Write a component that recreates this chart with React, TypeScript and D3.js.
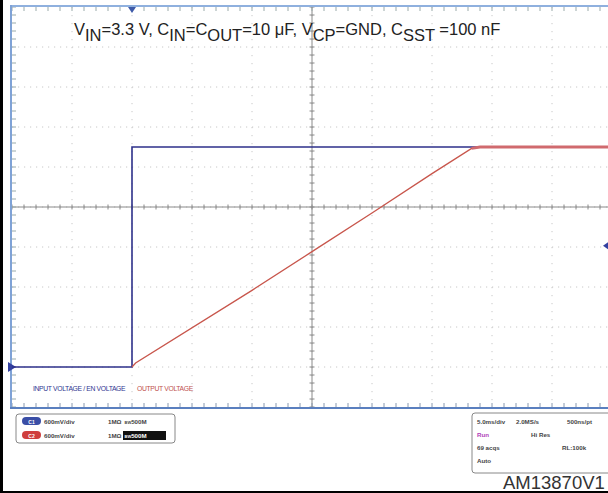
import React from "react";
import * as d3 from "d3";

// Channel 1 (input / EN voltage) – time in ms, volts
const ch1Time = [0, 10, 10, 50];
const ch1Volt = [0, 0, 3.3, 3.3];
// Channel 2 (output voltage)
const ch2Time = [10, 10.3, 20, 25, 30, 35, 38.3, 39, 50];
const ch2Volt = [0, 0.06, 1.15, 1.73, 2.31, 2.9, 3.28, 3.3, 3.3];
const ch2SettleFrom = 38.3;

// Scope grid: 10 divisions × 5 ms, 10 divisions × 600 mV
const timeTicks = d3.range(0, 55, 5);
const voltTicks = d3.range(0, 11).map((i) => -0.6 + 0.6 * i);

const legendLabels = ["INPUT VOLTAGE / EN VOLTAGE", "OUTPUT VOLTAGE"];
const channelLabels = ["C1", "C2"];
const scaleLabels = ["600mV/div", "600mV/div"];
const statusLines = [
  ["5.0ms/div", "2.0MS/s", "500ns/pt"],
  ["Run", "Hi Res", ""],
  ["69 acqs", "", "RL:100k"],
  ["Auto", "", ""],
];
const figureId = "AM13870V1";

export default function App() {
  const x = d3.scaleLinear().domain([0, 50]).range([12, 612]);
  const y = d3.scaleLinear().domain([-0.6, 5.4]).range([407, 7]);
  const line = d3
    .line<[number, number]>()
    .x((d) => x(d[0]))
    .y((d) => y(d[1]));
  const ch1 = ch1Time.map((t, i) => [t, ch1Volt[i]] as [number, number]);
  const ch2 = ch2Time.map((t, i) => [t, ch2Volt[i]] as [number, number]);
  const ch2Flat = ch2.filter((d) => d[0] >= ch2SettleFrom);

  const x0 = x(0), x1 = x(50), yTop = y(5.4), yBot = y(-0.6);
  const cx = x(25), cy = y(2.4);
  const minorX = d3.range(0, 50.01, 1);
  const minorY = d3.range(0, 51).map((i) => -0.6 + 0.12 * i);

  const grid = "#c8c8c8";
  const font = "Liberation Sans, Arial, sans-serif";
  const small = { fontFamily: font, fontSize: 6.2, fill: "#444", fontWeight: 700 } as const;

  return (
    <div style={{ position: "absolute", left: 0, top: 0 }}>
      <svg width={608} height={493} style={{ display: "block", background: "#fff" }}>
        {/* dotted grid */}
        {timeTicks.slice(1, -1).map((t) => (
          <line key={"gx" + t} x1={x(t)} x2={x(t)} y1={yTop} y2={yBot}
            stroke={grid} strokeWidth={1} strokeDasharray="1.2,6.8" />
        ))}
        {voltTicks.slice(1, -1).map((v) => (
          <line key={"gy" + v} x1={x0} x2={x1} y1={y(v)} y2={y(v)}
            stroke={grid} strokeWidth={1} strokeDasharray="1.2,4.8" />
        ))}
        {/* centre cross */}
        <line x1={cx} x2={cx} y1={yTop} y2={yBot} stroke="#8a8a8a" strokeWidth={1} />
        <line x1={x0} x2={x1} y1={cy} y2={cy} stroke="#8a8a8a" strokeWidth={1} />
        {minorX.map((t) => (
          <g key={"mx" + t}>
            <line x1={x(t)} x2={x(t)} y1={cy - 2.5} y2={cy + 2.5} stroke="#8a8a8a" />
            <line x1={x(t)} x2={x(t)} y1={yTop} y2={yTop + 4} stroke="#9aa" />
            <line x1={x(t)} x2={x(t)} y1={yBot - 4} y2={yBot} stroke="#8a9ab0" />
          </g>
        ))}
        {minorY.map((v, i) => (
          <g key={"my" + i}>
            <line x1={cx - 2.5} x2={cx + 2.5} y1={y(v)} y2={y(v)} stroke="#8a8a8a" />
            <line x1={x0} x2={x0 + 4} y1={y(v)} y2={y(v)} stroke="#9aa" />
          </g>
        ))}
        {/* border */}
        <line x1={x0} x2={x1} y1={yTop - 1} y2={yTop - 1} stroke="#8fb0de" strokeWidth={2} />
        <line x1={x0 - 1} x2={x0 - 1} y1={yTop - 2} y2={yBot + 1} stroke="#7fa2d6" strokeWidth={2} />
        <line x1={x0 - 2} x2={x1} y1={yBot + 1} y2={yBot + 1} stroke="#5a7fbf" strokeWidth={2.2} />

        {/* markers */}
        <path d={`M${x(10) - 4},${yTop} L${x(10) + 4},${yTop} L${x(10)},${yTop + 6} Z`} fill="#3e5aa8" />
        <path d={`M${x0 - 4},${y(0) - 5} L${x0 - 4},${y(0) + 5} L${x0 + 4},${y(0)} Z`} fill="#3340a0" />
        <path d={`M603,${y(1.82)} L608,${y(1.82) - 3.5} L608,${y(1.82) + 3.5} Z`} fill="#3340a0" />

        {/* traces */}
        <path d={line(ch1) || ""} fill="none" stroke="#2e318a" strokeWidth={1.6} />
        <path d={line(ch2) || ""} fill="none" stroke="#c8564c" strokeWidth={1.3} />
        <path d={line(ch2Flat) || ""} fill="none" stroke="#d06a6e" strokeWidth={2.8} />

        {/* annotation */}
        <text x={74} y={35} style={{ fontFamily: font, fontSize: 16.5, fill: "#222" }}>
          <tspan>V</tspan><tspan dy={6}>IN</tspan>
          <tspan dy={-6}>=3.3 V, C</tspan><tspan dy={6}>IN</tspan>
          <tspan dy={-6}>=C</tspan><tspan dy={6}>OUT</tspan>
          <tspan dy={-6}>=10 μF, V</tspan><tspan dy={6}>CP</tspan>
          <tspan dy={-6}>=GND, C</tspan><tspan dy={6}>SST</tspan>
          <tspan dy={-6}> =100 nF</tspan>
        </text>

        {/* in-plot legend */}
        <text x={33} y={391} style={{ ...small, fontSize: 6.8, fill: "#2e3490", fontWeight: 400, letterSpacing: -0.35 }}>{legendLabels[0]}</text>
        <text x={137} y={391} style={{ ...small, fontSize: 6.8, fill: "#c0504d", fontWeight: 400, letterSpacing: -0.35 }}>{legendLabels[1]}</text>

        {/* channel box */}
        <rect x={16} y={414} width={159} height={29} rx={3} fill="#fff" stroke="#888" strokeWidth={1} />
        {channelLabels.map((c, i) => (
          <g key={c}>
            <rect x={22} y={417 + i * 14} width={19} height={8} rx={4} fill={i === 0 ? "#3a4ea6" : "#cf3e3e"} />
            <text x={31.5} y={423.5 + i * 14} textAnchor="middle" style={{ ...small, fontSize: 5, fill: "#fff" }}>{c}</text>
            <text x={44} y={424 + i * 14} style={small}>{scaleLabels[i]}</text>
            <text x={108} y={424 + i * 14} style={small}>1MΩ</text>
          </g>
        ))}
        <text x={124.5} y={424} style={small}><tspan fontSize={4}>BW</tspan>500M</text>
        <rect x={123} y={431} width={43} height={9} fill="#111" />
        <text x={124.5} y={438} style={{ ...small, fill: "#fff" }}><tspan fontSize={4}>BW</tspan>500M</text>

        {/* status box */}
        <rect x={472} y={413} width={145} height={60} rx={3} fill="#fff" stroke="#888" strokeWidth={1} />
        {statusLines.map((row, i) => (
          <g key={i}>
            {row[0] && <text x={477} y={424 + i * 13} style={{ ...small, fill: i === 1 ? "#b040b8" : "#444" }}>{row[0]}</text>}
            {row[1] && <text x={i === 0 ? 516 : 531} y={424 + i * 13} style={small}>{row[1]}</text>}
            {row[2] && <text x={i === 0 ? 567 : 562} y={424 + i * 13} style={small}>{row[2]}</text>}
          </g>
        ))}

        <text x={503} y={489} style={{ fontFamily: font, fontSize: 18.5, fill: "#333" }}>{figureId}</text>

        {/* outer frame */}
        <line x1={1.5} x2={1.5} y1={0} y2={493} stroke="#000" strokeWidth={3} />
        <line x1={0} x2={608} y1={492} y2={492} stroke="#000" strokeWidth={2} />
      </svg>
    </div>
  );
}
